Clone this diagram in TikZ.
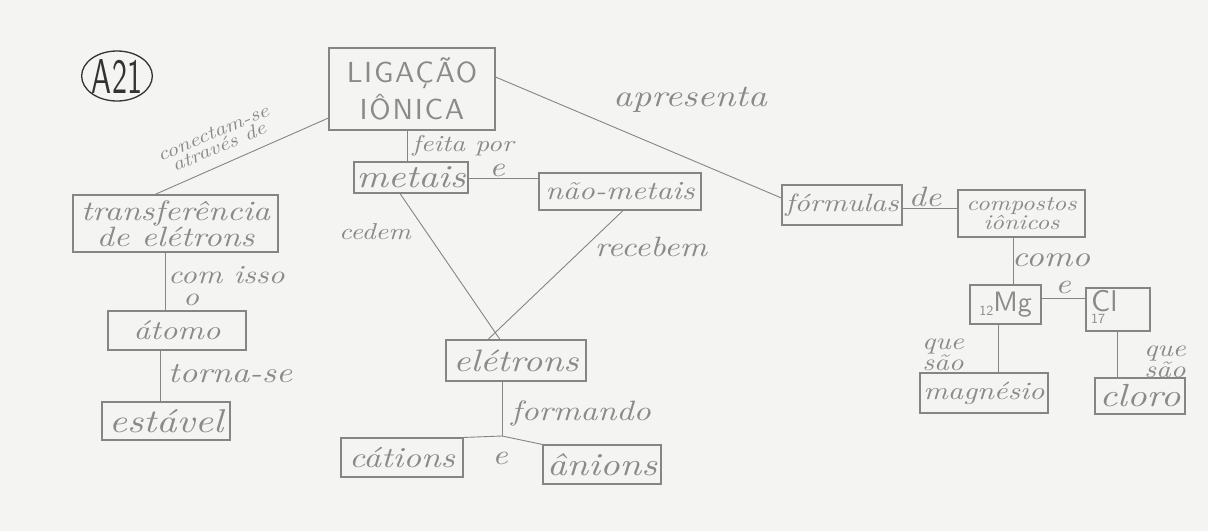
\documentclass[tikz,border=0pt]{standalone}
\usepackage{fontspec}
\usepackage{graphicx}
\usetikzlibrary{shapes.geometric,calc}
\definecolor{paper}{HTML}{F4F4F3}
\definecolor{pencil}{HTML}{858585}
\definecolor{ink}{HTML}{8A8A8A}
\definecolor{pen}{HTML}{333333}
% handwriting-like italic, widened; print capitals with light tracking
\newfontfamily\handfam{lmroman10-italic.otf}[FakeStretch=1.2]
\newfontfamily\capsfam{lmsans10-regular.otf}[LetterSpace=6]
\newfontfamily\printfam{lmsans10-regular.otf}
\newcommand\hand[1]{\fontsize{#1}{#1}\selectfont\handfam}
\newcommand\handlead[2]{\fontsize{#1}{#2}\selectfont\handfam}
\begin{document}
\begin{tikzpicture}[x=1pt,y=-1pt,
  box/.style={draw=pencil, line width=1.1pt, inner sep=0pt, text=ink, font=\hand{28}, align=center},
  lbl/.style={inner sep=0pt, text=ink, font=\hand{28}, align=center},
  link/.style={draw=pencil, line width=0.9pt},
]
\fill[paper] (0,0) rectangle (1208,531);
\useasboundingbox (0,0) rectangle (1208,531);

% map tag
\node[ellipse, draw=pen, line width=1.3pt, minimum width=68pt, minimum height=50pt, inner sep=0pt,
      text=pen, font=\printfam] (tag) at (117,76) {\resizebox{50pt}{34pt}{A21}};

% concept boxes
\node[box, minimum width=166pt, minimum height=82pt, font=\fontsize{29}{37}\selectfont\capsfam] (lig) at (412,89)
  {LIGAÇÃO\\IÔNICA};
\node[box, minimum width=114pt, minimum height=31pt, font=\hand{32}] (metais) at (411,177.5) {metais};
\node[box, minimum width=162pt, minimum height=37pt, font=\hand{26}] (naometais) at (620,191.5) {não-metais};
\node[box, minimum width=120pt, minimum height=40pt, font=\hand{25}] (formulas) at (842,205) {fórmulas};
\node[box, minimum width=127pt, minimum height=47pt, font=\handlead{21}{19}] (compostos) at (1021.5,213.5) {compostos\\iônicos};
\node[box, minimum width=71pt, minimum height=39pt, font=\fontsize{28}{28}\selectfont\printfam] (mg) at (1005.5,304.5)
  {{\fontsize{14}{14}\selectfont 12}\raisebox{4pt}{Mg}};
\node[box, minimum width=64pt, minimum height=43pt] (cl) at (1118,309.5) {};
\node[inner sep=0pt, text=ink, align=left, anchor=north west, font=\printfam] (cltext) at (1091,290)
  {{\fontsize{30}{23}\selectfont Cl}\\{\fontsize{14}{14}\selectfont 17}};
\node[box, minimum width=128pt, minimum height=40pt, font=\hand{25}] (magnesio) at (984,393) {magnésio};
\node[box, minimum width=90pt, minimum height=36pt, font=\hand{32}] (cloro) at (1140,396) {cloro};
\node[box, minimum width=205pt, minimum height=57pt, font=\handlead{28}{22}] (transf) at (175.5,223.5) {transferência\\de elétrons};
\node[box, minimum width=138pt, minimum height=39pt, font=\hand{27}] (atomo) at (177,330.5) {átomo};
\node[box, minimum width=128pt, minimum height=38pt, font=\hand{33}] (estavel) at (166,421) {estável};
\node[box, minimum width=140pt, minimum height=41pt, font=\hand{31}] (eletrons) at (516,360.5) {elétrons};
\node[box, minimum width=122pt, minimum height=39pt, font=\hand{29}] (cations) at (402,457.5) {cátions};
\node[box, minimum width=118pt, minimum height=39pt, font=\hand{32}] (anions) at (602,464.5) {ânions};

% connectors
\draw[link] (lig.west |- 0,118) -- (transf.north -| 155,0);
\draw[link] (lig.south -| 407,0) -- (metais.north -| 407,0);
\draw[link] (lig.east |- 0,77) -- (formulas.west |- 0,198);
\draw[link] (metais.east |- 0,178) -- (naometais.west |- 0,178);
\draw[link] (metais.south -| 400,0) -- (eletrons.north -| 500,0);
\draw[link] (naometais.south -| 623,0) -- (eletrons.north -| 488,0);
\coordinate (fork) at (502,436);
\draw[link] (eletrons.south -| fork) -- (fork);
\draw[link] (fork) -- (cations.north east);
\draw[link] (fork) -- (anions.north west);
\draw[link] (formulas.east |- 0,208) -- (compostos.west |- 0,208);
\draw[link] (compostos.south -| 1013,0) -- (mg.north -| 1013,0);
\draw[link] (mg.east |- 0,298) -- (cl.west |- 0,298);
\draw[link] (mg.south -| 998,0) -- (magnesio.north -| 998,0);
\draw[link] (cl.south -| 1117,0) -- (cloro.north -| 1117,0);
\draw[link] (transf.south -| 165,0) -- (atomo.north -| 165,0);
\draw[link] (atomo.south -| 160,0) -- (estavel.north -| 160,0);

% linking words
\node[lbl, rotate=23, font=\handlead{19}{15}] (lconect) at (216,140) {conectam-se\\através de};
\node[lbl, font=\hand{23}] (lfeita) at (463,146) {feita por};
\node[lbl] (le1) at (497,170) {e};
\node[lbl, font=\hand{31}] (lapresenta) at (690,100) {apresenta};
\node[lbl, font=\hand{23}] (lcedem) at (375,232) {cedem};
\node[lbl] (lrecebem) at (651,247) {recebem};
\node[lbl] (lde) at (925,197) {de};
\node[lbl, font=\hand{29}] (lcomo) at (1051,260) {como};
\node[lbl] (le2) at (1063,287) {e};
\node[lbl, font=\handlead{24}{15}] (lque1) at (943,355) {que\\são};
\node[lbl, font=\handlead{24}{15}] (lque2) at (1165,362) {que\\são};
\node[lbl, align=left, anchor=north west, font=\handlead{26}{22}] (lcomisso) at (168,266) {com isso\\\hspace*{15pt}o};
\node[lbl, font=\hand{29}] (ltorna) at (230,374) {torna-se};
\node[lbl] (lformando) at (581,413) {formando};
\node[lbl] (le3) at (500,458) {e};
\end{tikzpicture}
\end{document}
